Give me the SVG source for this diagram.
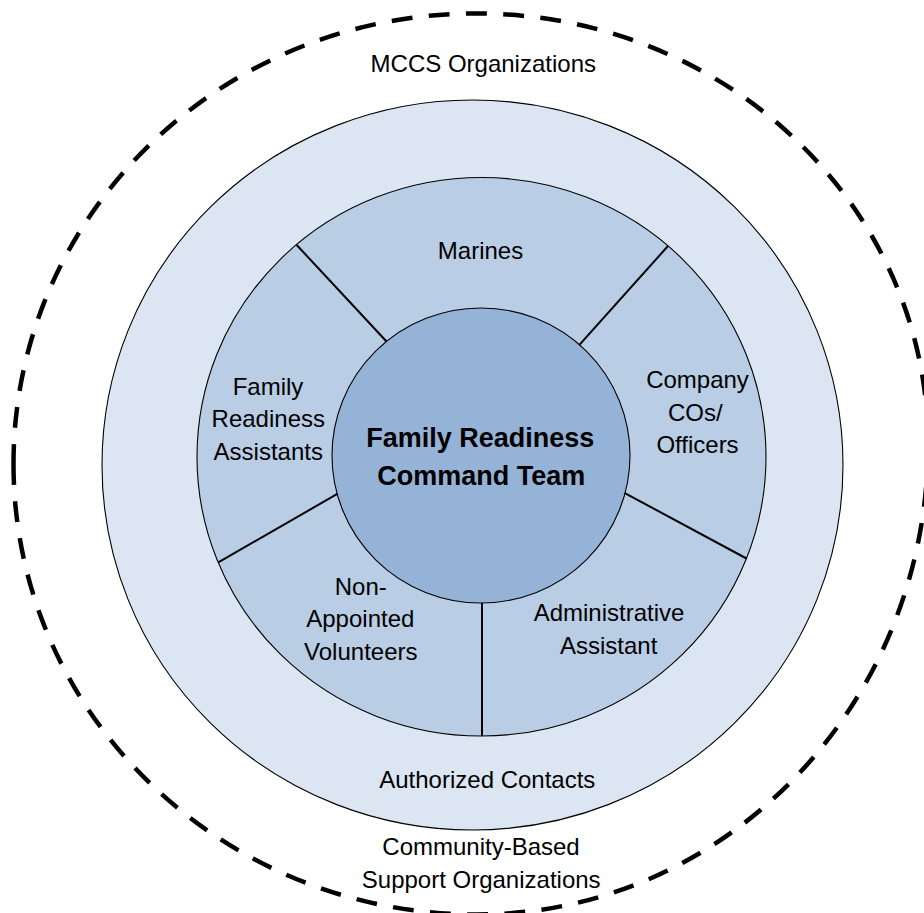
<svg xmlns="http://www.w3.org/2000/svg" width="924" height="913" viewBox="0 0 924 913">
  <style>
    .lbl { font-family: "Liberation Sans", Arial, sans-serif; font-size: 24px; fill: #000; text-anchor: middle; }
    .core { font-family: "Liberation Sans", Arial, sans-serif; font-size: 27px; font-weight: bold; fill: #000; text-anchor: middle; }
    .ring { stroke: #000; stroke-width: 1.1; }
    .divider { stroke: #000; stroke-width: 2; fill: none; }
  </style>
  <rect x="0" y="0" width="924" height="913" fill="#ffffff"/>

  <g id="mccs-boundary">
    <path d="M 13.5,464 C 13.5,712.8 221,914.5 477,914.5 C 726.1,914.5 928,703.9 928,444 C 928,206.2 725.6,13.5 476,13.5 C 220.6,13.5 13.5,215.2 13.5,464 Z" fill="none" stroke="#000" stroke-width="4.5" stroke-dasharray="21 16.5" pathLength="2870"/>
    <text class="lbl" x="483.3" y="72.3">MCCS Organizations</text>
    <text class="lbl" x="481" y="855.3">Community-Based</text>
    <text class="lbl" x="481.2" y="888">Support Organizations</text>
  </g>

  <g id="authorized-contacts">
    <ellipse class="ring" cx="472.5" cy="465" rx="370.5" ry="365" fill="#DCE6F2"/>
    <text class="lbl" x="487.3" y="788">Authorized Contacts</text>
  </g>

  <g id="support-ring">
    <ellipse class="ring" cx="481.5" cy="456.75" rx="284.5" ry="279.25" fill="#B9CDE5"/>
  </g>

  <g id="connectors">
    <line class="divider" x1="296.7" y1="245" x2="388.4" y2="343.5"/>
    <line class="divider" x1="668" y1="246" x2="577.6" y2="346.9"/>
    <line class="divider" x1="746.5" y1="558.5" x2="623.4" y2="492.3"/>
    <line class="divider" x1="482" y1="736" x2="482" y2="600"/>
    <line class="divider" x1="218.3" y1="562.3" x2="338.6" y2="493.2"/>
  </g>

  <g id="marines">
    <text class="lbl" x="480.5" y="259">Marines</text>
  </g>

  <g id="company-cos-officers">
    <text class="lbl" x="697.5" y="388.3">Company</text>
    <text class="lbl" x="695.3" y="420.8">COs/</text>
    <text class="lbl" x="697.5" y="453.3">Officers</text>
  </g>

  <g id="administrative-assistant">
    <text class="lbl" x="609" y="621.3">Administrative</text>
    <text class="lbl" x="608.7" y="654">Assistant</text>
  </g>

  <g id="non-appointed-volunteers">
    <text class="lbl" x="360.8" y="594.5">Non-</text>
    <text class="lbl" x="360.3" y="627">Appointed</text>
    <text class="lbl" x="360.8" y="659.5">Volunteers</text>
  </g>

  <g id="family-readiness-assistants">
    <text class="lbl" x="268" y="395">Family</text>
    <text class="lbl" x="268.3" y="427.3">Readiness</text>
    <text class="lbl" x="268.3" y="459.6">Assistants</text>
  </g>

  <g id="family-readiness-command-team">
    <ellipse class="ring" cx="481" cy="455.5" rx="149" ry="147.5" fill="#95B3D7"/>
    <text class="core" x="480.3" y="446.7">Family Readiness</text>
    <text class="core" x="481.2" y="485">Command Team</text>
  </g>
</svg>
